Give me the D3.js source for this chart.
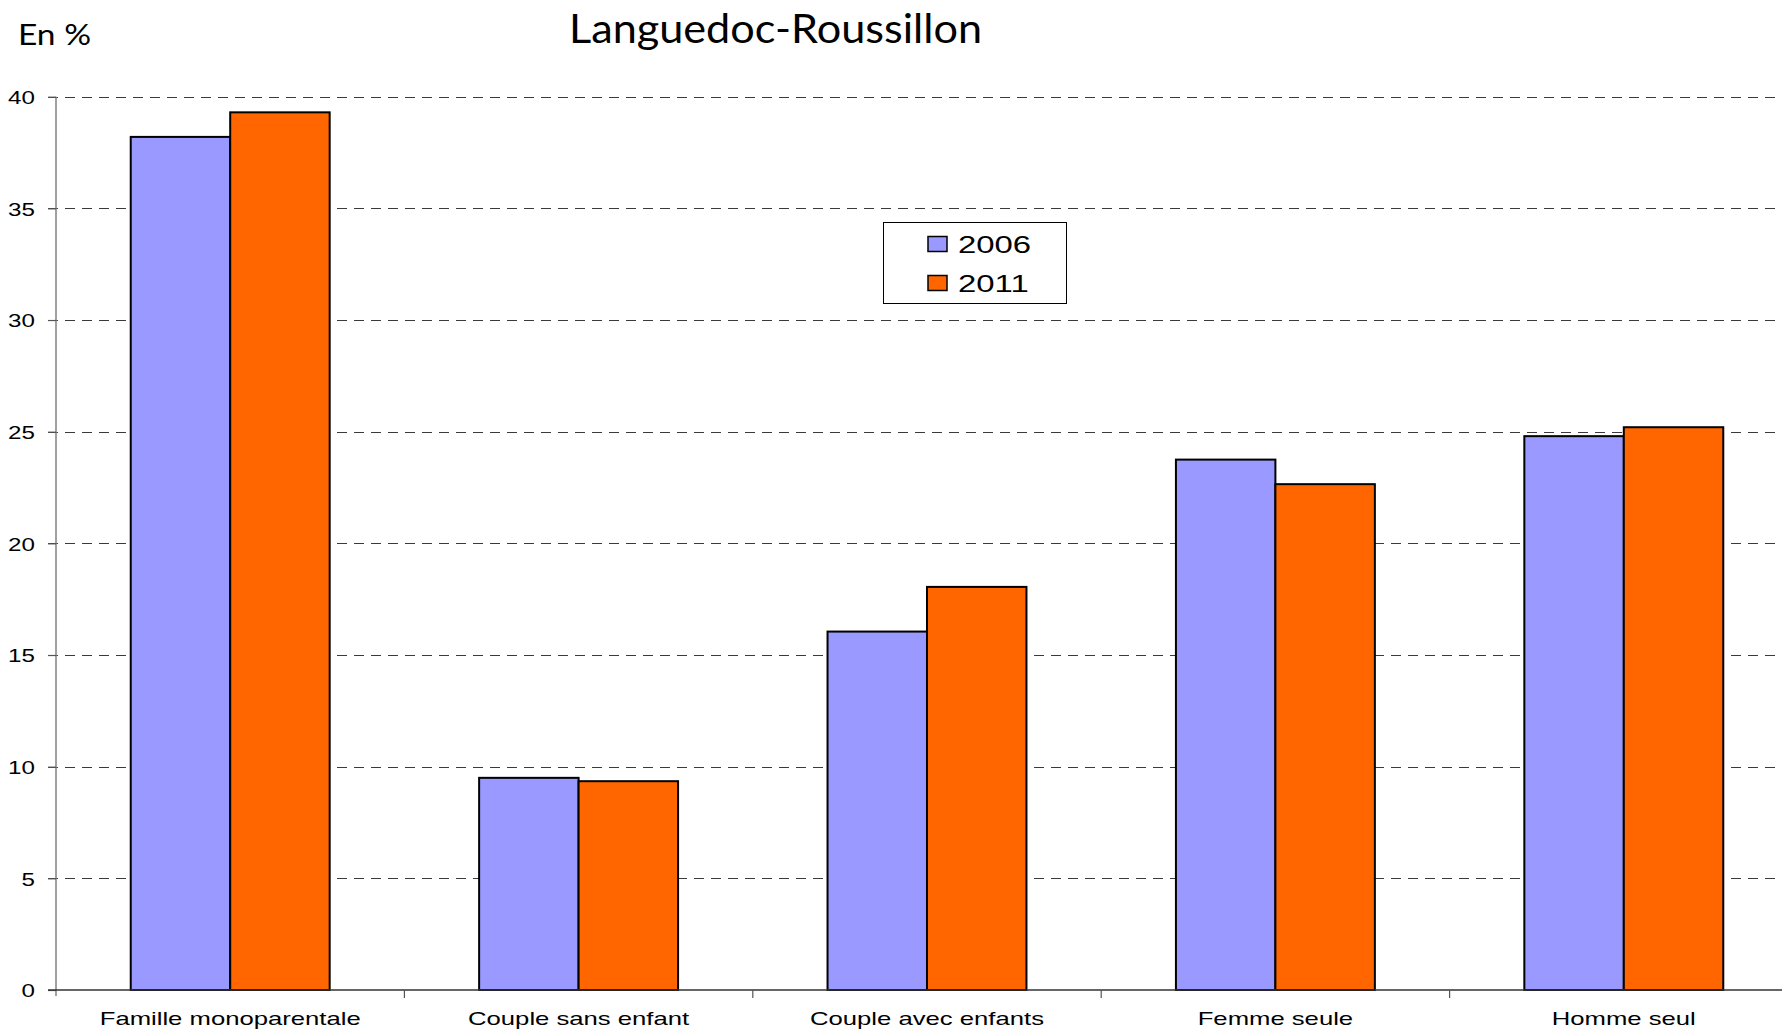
<!DOCTYPE html>
<html>
<head>
<meta charset="utf-8">
<script src="https://cdn.jsdelivr.net/npm/d3@7"></script>
<style>
  html, body { margin: 0; padding: 0; background: #fff; }
  svg { display: block; }
</style>
</head>
<body>
<svg id="chart" width="1782" height="1031"></svg>
<script>
const categories = ["Famille monoparentale", "Couple sans enfant", "Couple avec enfants", "Femme seule", "Homme seul"];
const seriesNames = ["2006", "2011"];
const values2006 = [38.2, 9.5, 16.05, 23.75, 24.8];
const values2011 = [39.3, 9.35, 18.05, 22.65, 25.2];
const yTicks = [0, 5, 10, 15, 20, 25, 30, 35, 40];
const colors = ["#9999FF", "#FF6600"];
const titleText = "Languedoc-Roussillon";
const unitText = "En %";

const seriesValues = [values2006, values2011];
const data = categories.map((c, i) => ({ cat: c, vals: seriesNames.map((s, j) => ({ s, v: seriesValues[j][i] })) }));

const svg = d3.select("#chart");
const y = d3.scaleLinear().domain([0, 40]).range([990, 96.7]);
const x = d3.scaleBand().domain(categories).range([56, 1798]).padding(0);
const bw = x.bandwidth();
const x1 = d3.scaleBand().domain(seriesNames).range([bw * 0.2145, bw * 0.7855]).padding(0);
const color = d3.scaleOrdinal().domain(seriesNames).range(colors);

// gridlines
svg.append("g").selectAll("line").data(yTicks.filter(t => t > 0)).join("line")
  .attr("x1", 48).attr("x2", 1782)
  .attr("y1", d => Math.round(y(d)) + 0.5).attr("y2", d => Math.round(y(d)) + 0.5)
  .attr("stroke", "#3a3a3a").attr("stroke-width", 1.2).attr("stroke-dasharray", "10,7");

// bars
const groups = svg.append("g").selectAll("g").data(data).join("g")
  .attr("transform", d => `translate(${x(d.cat)},0)`);
groups.selectAll("rect").data(d => d.vals).join("rect")
  .attr("x", d => x1(d.s))
  .attr("y", d => y(d.v))
  .attr("width", x1.bandwidth())
  .attr("height", d => y(0) - y(d.v))
  .attr("fill", d => color(d.s))
  .attr("stroke", "#000").attr("stroke-width", 2);

// y axis
const yAxis = svg.append("g").attr("transform", "translate(56,0)")
  .call(d3.axisLeft(y).tickValues(yTicks).tickSize(8).tickPadding(0).tickSizeOuter(0));
yAxis.select(".domain").attr("stroke", "#808080").attr("stroke-width", 1.5)
  .attr("d", `M0,${y(40)}V996`);
yAxis.selectAll(".tick line").attr("stroke", "#555").attr("stroke-width", 1.2);
yAxis.selectAll(".tick text")
  .attr("x", 0).attr("dy", "0.36em")
  .attr("transform", "translate(-21,0) scale(1.3,1)")
  .attr("text-anchor", "end")
  .attr("font-family", "Liberation Sans, Arial, sans-serif")
  .attr("font-size", 18.6).attr("fill", "#000");

// x axis
const xAxis = svg.append("g").attr("transform", "translate(0,990)")
  .call(d3.axisBottom(x).tickSize(0).tickPadding(0).tickSizeOuter(0));
xAxis.select(".domain").attr("stroke", "#333").attr("stroke-width", 1.5)
  .attr("d", "M48,0H1782");
xAxis.selectAll(".tick text")
  .attr("y", 35).attr("dy", 0)
  .attr("transform", "scale(1.38,1)")
  .attr("font-family", "Liberation Sans, Arial, sans-serif")
  .attr("font-size", 18.6).attr("fill", "#000");
// category boundary ticks
svg.append("g").selectAll("line").data(categories.slice(1)).join("line")
  .attr("x1", d => x(d)).attr("x2", d => x(d))
  .attr("y1", 990).attr("y2", 998)
  .attr("stroke", "#555").attr("stroke-width", 1.2);

// legend
const lg = svg.append("g").attr("transform", "translate(883,222)");
lg.append("rect").attr("x", 0.5).attr("y", 0.5).attr("width", 183).attr("height", 81)
  .attr("fill", "#fff").attr("stroke", "#000").attr("stroke-width", 1);
const li = lg.selectAll("g.li").data(seriesNames).join("g").attr("class", "li")
  .attr("transform", (d, i) => `translate(0,${i * 39})`);
li.append("rect").attr("x", 45).attr("y", 14.5).attr("width", 19).attr("height", 15)
  .attr("fill", d => color(d)).attr("stroke", "#000").attr("stroke-width", 1.5);
li.append("text").attr("transform", "translate(75,30.5) scale(1.4,1)")
  .attr("font-family", "Liberation Sans, Arial, sans-serif").attr("font-size", 23.5)
  .attr("fill", "#000").text(d => d);

// titles
svg.append("text").attr("x", 775.5).attr("y", 43).attr("text-anchor", "middle")
  .attr("font-family", "Lato, 'Open Sans', sans-serif").attr("font-size", 41)
  .attr("textLength", 413).attr("lengthAdjust", "spacingAndGlyphs")
  .attr("fill", "#000").text(titleText);
svg.append("text").attr("x", 18).attr("y", 45)
  .attr("font-family", "Lato, 'Open Sans', sans-serif").attr("font-size", 29)
  .attr("textLength", 73).attr("lengthAdjust", "spacingAndGlyphs")
  .attr("fill", "#000").text(unitText);
</script>
</body>
</html>
